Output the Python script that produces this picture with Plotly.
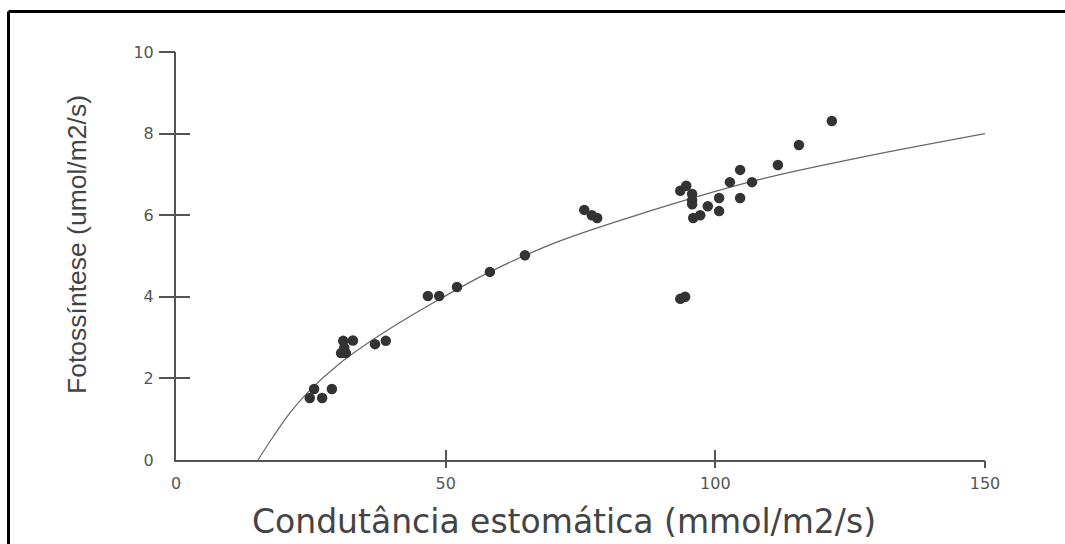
import plotly.graph_objects as go

# Scatter data: stomatal conductance (x) vs photosynthesis (y)
cond = [121.6, 115.5, 111.6, 104.6, 102.7, 106.8, 104.6, 100.7, 100.7, 98.6,
        97.2, 95.9, 94.6, 93.5, 95.7, 95.7, 95.7, 94.4, 93.5,
        75.7, 77.1, 78.1, 64.7, 58.2, 52.1, 48.8, 46.7,
        38.9, 36.9, 32.8, 31.0, 31.2, 30.6, 31.5,
        25.6, 28.9, 24.8, 27.1]
photo = [8.31, 7.72, 7.23, 7.11, 6.81, 6.81, 6.42, 6.42, 6.10, 6.22,
         6.00, 5.93, 6.72, 6.60, 6.52, 6.37, 6.27, 4.00, 3.95,
         6.13, 6.00, 5.93, 5.02, 4.61, 4.24, 4.02, 4.02,
         2.92, 2.84, 2.93, 2.92, 2.75, 2.62, 2.62,
         1.74, 1.74, 1.52, 1.52]

# Fitted curve
curve_x = [15.2, 18.0, 21.1, 24.3, 30.4, 38.4, 49.0, 58.2, 70.6, 87.3, 107.7, 126.3, 150.0]
curve_y = [0.0, 0.57, 1.15, 1.64, 2.37, 3.11, 3.95, 4.61, 5.34, 6.08, 6.86, 7.40, 8.0]

x_ticks = [0, 50, 100, 150]
y_ticks = [0, 2, 4, 6, 8, 10]
x_title = "Condutância estomática (mmol/m2/s)"
y_title = "Fotossíntese (umol/m2/s)"

AX = "#555555"
TXT = "#444444"

fig = go.Figure()
fig.add_trace(go.Scatter(x=curve_x, y=curve_y, mode="lines",
                         line=dict(color="#666666", width=1.2, shape="spline", smoothing=1.0),
                         hoverinfo="skip", showlegend=False))
fig.add_trace(go.Scatter(x=cond, y=photo, mode="markers",
                         marker=dict(color="#333333", size=10.5, line=dict(width=0)),
                         showlegend=False, cliponaxis=False))

tickfont = dict(family="DejaVu Sans", size=16, color="#555555")

# page pixel -> paper fraction of the 809x408 plot area (left 176, bottom 460)
def px(x):
    return (x - 176) / 809

def py(y):
    return (460 - y) / 408

fig.update_layout(
    width=1065, height=544,
    margin=dict(l=176, r=80, t=52, b=84),
    paper_bgcolor="white", plot_bgcolor="white",
    xaxis=dict(range=[0, 150], tickvals=x_ticks, ticktext=[str(v) for v in x_ticks],
               ticks="outside", ticklen=8, tickcolor="rgba(0,0,0,0)",
               showline=True, linecolor=AX, linewidth=2, showgrid=False, zeroline=False,
               tickfont=tickfont),
    yaxis=dict(range=[0, 10], tickvals=y_ticks, ticktext=[str(v) for v in y_ticks],
               ticks="outside", ticklen=17, tickcolor="rgba(0,0,0,0)",
               showline=True, linecolor=AX, linewidth=2, showgrid=False, zeroline=False,
               tickfont=tickfont),
    xaxis2=dict(overlaying="x", anchor="y", range=[0, 150], tickvals=x_ticks[1:],
                ticks="outside", ticklen=7, tickwidth=2, tickcolor=AX,
                showticklabels=False, showline=False, showgrid=False, zeroline=False),
    xaxis3=dict(overlaying="x", anchor="y", range=[0, 150], tickvals=x_ticks[1:],
                ticks="inside", ticklen=10, tickwidth=2, tickcolor=AX,
                showticklabels=False, showline=False, showgrid=False, zeroline=False),
    yaxis2=dict(overlaying="y", anchor="x", range=[0, 10], tickvals=y_ticks[1:],
                ticks="outside", ticklen=16, tickwidth=2, tickcolor=AX,
                showticklabels=False, showline=False, showgrid=False, zeroline=False),
    yaxis3=dict(overlaying="y", anchor="x", range=[0, 10], tickvals=y_ticks[1:],
                ticks="inside", ticklen=14, tickwidth=2, tickcolor=AX,
                showticklabels=False, showline=False, showgrid=False, zeroline=False),
    annotations=[
        dict(text=x_title, xref="paper", yref="paper", x=px(564), y=py(521),
             xanchor="center", yanchor="middle", showarrow=False,
             font=dict(family="DejaVu Sans", size=33, color=TXT)),
        dict(text=y_title, xref="paper", yref="paper", x=px(77), y=py(245),
             xanchor="center", yanchor="middle", showarrow=False, textangle=-90,
             font=dict(family="Liberation Sans", size=26.5, color=TXT)),
    ],
    shapes=[
        dict(type="line", xref="paper", yref="paper",
             x0=px(8.5), x1=px(1065), y0=py(11.5), y1=py(11.5),
             line=dict(color="black", width=3), layer="below"),
        dict(type="line", xref="paper", yref="paper",
             x0=px(8.5), x1=px(8.5), y0=py(560), y1=py(11.5),
             line=dict(color="black", width=3), layer="below"),
    ],
)

# empty traces so the overlay tick axes are rendered
fig.add_trace(go.Scatter(x=[None], y=[None], xaxis="x2", yaxis="y2", showlegend=False, hoverinfo="skip"))
fig.add_trace(go.Scatter(x=[None], y=[None], xaxis="x3", yaxis="y3", showlegend=False, hoverinfo="skip"))

fig.write_html("out.html")
